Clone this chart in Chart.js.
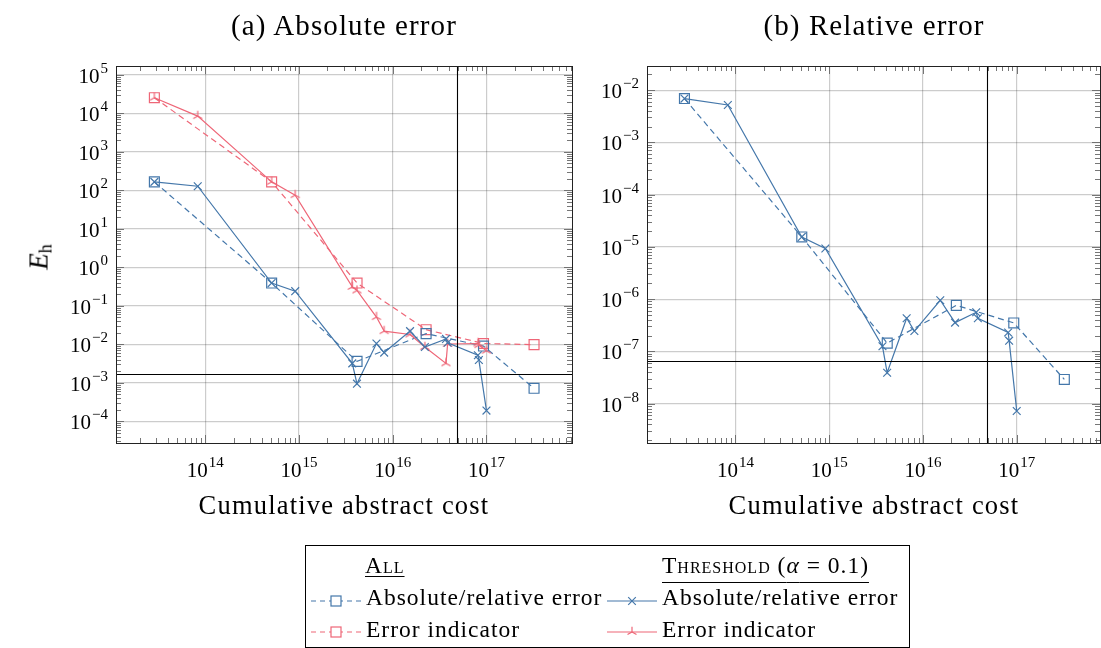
<!DOCTYPE html>
<html>
<head>
<meta charset="utf-8">
<script src="https://cdn.jsdelivr.net/npm/chart.js@4/dist/chart.umd.min.js"></script>
<style>
  body { margin: 0; background: #fff; }
  #page { position: relative; width: 1101px; height: 648px; overflow: hidden; font-family: "Liberation Serif", serif; color: #000; }
  canvas.panel { position: absolute; top: 0; }
  .title { position: absolute; top: 9px; width: 456px; text-align: center; font-size: 29px; letter-spacing: 1.1px; white-space: nowrap; }
  .xlabel { position: absolute; top: 490px; width: 456px; text-align: center; font-size: 26.5px; letter-spacing: 1.2px; white-space: nowrap; }
  #ylabel { position: absolute; left: 40px; top: 257px; transform: translate(-50%, -50%) rotate(-90deg); font-size: 27px; white-space: nowrap; }
  #ylabel sub { font-style: normal; font-size: 18px; vertical-align: -4px; }
  #legend { position: absolute; left: 305px; top: 545px; width: 603px; height: 101px; border: 1px solid #000; }
  #legend span { position: absolute; font-size: 23.5px; letter-spacing: 1px; line-height: 26px; white-space: nowrap; }
  #legend .head { font-variant: small-caps; text-decoration: underline; text-decoration-thickness: 1px; }
  #legend canvas { position: absolute; left: 0; top: 0; }
</style>
</head>
<body>
<div id="page">
  <canvas id="absChart" class="panel" width="590" height="540" style="left:0"></canvas>
  <canvas id="relChart" class="panel" width="541" height="540" style="left:560px"></canvas>

  <div class="title" style="left:116px">(a) Absolute error</div>
  <div class="title" style="left:646px">(b) Relative error</div>
  <div class="xlabel" style="left:116px">Cumulative abstract cost</div>
  <div class="xlabel" style="left:646px">Cumulative abstract cost</div>
  <div id="ylabel"><i>E</i><sub>h</sub></div>

  <div id="legend">
    <canvas id="legendMarks" width="603" height="101"></canvas>
    <span class="head" style="left:59px;top:6px;text-underline-offset:3px">All</span>
    <span class="head" style="left:356px;top:6px;text-underline-offset:9px">Threshold (<i style="font-variant:normal">α</i> = 0.1)</span>
    <span style="left:60px;top:38px">Absolute/relative error</span>
    <span style="left:356px;top:38px">Absolute/relative error</span>
    <span style="left:60px;top:70px">Error indicator</span>
    <span style="left:356px;top:70px">Error indicator</span>
  </div>
</div>

<script>
// runs that use every refinement step
const allCost      = [2.86e13, 5.1e14, 4.16e15, 2.27e16, 9.3e16, 3.22e17];
const allAbsErr    = [166, 0.39, 3.6e-3, 0.019, 9.0e-3, 7.2e-4];
const allIndicator = [2.55e4, 166, 0.39, 0.024, 0.0105, 0.0098];
const allRelErr    = [6.9e-3, 1.55e-5, 1.44e-7, 7.6e-7, 3.5e-7, 2.9e-8];

// thresholded runs (alpha = 0.1)
const thrCost      = [2.86e13, 8.3e13, 5.1e14, 9.1e14, 3.7e15, 4.15e15, 6.7e15, 8.1e15,
                      1.53e16, 2.2e16, 3.7e16, 3.85e16, 8.1e16, 8.3e16, 1.0e17];
const thrAbsErr    = [166, 128, 0.39, 0.24, 3.2e-3, 9.5e-4, 0.0105, 6.1e-3,
                      0.022, 8.5e-3, 0.0138, 0.011, 5.2e-3, 3.9e-3, 1.9e-4];
const thrIndicator = [2.55e4, 8.5e3, 166, 75, 0.31, 0.25, 0.051, 0.022,
                      0.018, 8.5e-3, 3.2e-3, 0.0102, 0.0105, 0.0095, 0.0068];
const thrRelErr    = [6.9e-3, 5.2e-3, 1.55e-5, 9.3e-6, 1.25e-7, 3.9e-8, 4.3e-7, 2.45e-7,
                      9.5e-7, 3.55e-7, 5.6e-7, 4.3e-7, 2.3e-7, 1.6e-7, 7.2e-9];

// tolerance and budget reference lines
const absTolerance = 1.65e-3;
const relTolerance = 6.4e-8;
const costBudget   = 4.8e16;

const BLUE = '#4477AA';
const RED  = '#EE6677';
const FONT = '"Liberation Serif", serif';

const pairs = (xs, ys) => xs.map((x, i) => ({ x, y: ys[i] }));

// three-spoke marker used for the thresholded error indicator
function triMarker(color) {
  const c = document.createElement('canvas');
  c.width = 12; c.height = 12;
  const g = c.getContext('2d');
  g.strokeStyle = color; g.lineWidth = 1.2;
  g.beginPath();
  g.moveTo(6, 6); g.lineTo(6, 0.8);
  g.moveTo(6, 6); g.lineTo(1.5, 8.6);
  g.moveTo(6, 6); g.lineTo(10.5, 8.6);
  g.stroke();
  return c;
}
const triRed = triMarker(RED);

function allSeries(label, data, color) {
  return {
    label, data, borderColor: color, borderWidth: 1.2, borderDash: [6, 4],
    pointStyle: 'rect', pointRadius: 7, pointBorderWidth: 1.2,
    pointBackgroundColor: 'rgba(0,0,0,0)', pointBorderColor: color, fill: false
  };
}
function thrSeries(label, data, color, style) {
  return {
    label, data, borderColor: color, borderWidth: 1.2,
    pointStyle: style, pointRadius: style === 'crossRot' ? 5.5 : 6, pointBorderWidth: 1.2,
    pointBackgroundColor: color, pointBorderColor: color, fill: false
  };
}

function decades(min, max) {
  const out = [];
  for (let e = Math.ceil(Math.log10(min) - 1e-9); Math.pow(10, e) <= max * (1 + 1e-9); e++) out.push(e);
  return out;
}

function drawPow(ctx, exp, x, baseY, align) {
  const e = exp < 0 ? '\u2212' + (-exp) : String(exp);
  ctx.font = '21px ' + FONT;
  const wb = ctx.measureText('10').width;
  ctx.font = '15px ' + FONT;
  const we = ctx.measureText(e).width;
  const total = wb + 1 + we;
  const left = align === 'center' ? x - total / 2 : x - total;
  ctx.textAlign = 'left';
  ctx.textBaseline = 'alphabetic';
  ctx.font = '21px ' + FONT;
  ctx.fillText('10', left, baseY);
  ctx.font = '15px ' + FONT;
  ctx.fillText(e, left + wb + 1, baseY - 10);
}

// frame, inward minor ticks, reference lines and power-of-ten labels
const frameTicks = {
  id: 'frameTicks',
  afterDatasetsDraw(chart, args, opts) {
    const { ctx, chartArea: a, scales: { x, y } } = chart;
    ctx.save();
    const seg = (x1, y1, x2, y2) => { ctx.beginPath(); ctx.moveTo(x1, y1); ctx.lineTo(x2, y2); ctx.stroke(); };

    ctx.strokeStyle = '#666';
    ctx.lineWidth = 0.9;
    for (const e of decades(x.min / 10, x.max * 10)) {
      for (let k = 1; k <= 9; k++) {
        const v = k * Math.pow(10, e);
        if (v < x.min || v > x.max) continue;
        const px = Math.round(x.getPixelForValue(v)) + 0.5;
        const len = k === 1 ? 8 : 5;
        seg(px, a.top, px, a.top + len);
        seg(px, a.bottom, px, a.bottom - len);
      }
    }
    for (const e of decades(y.min / 10, y.max * 10)) {
      for (let k = 1; k <= 9; k++) {
        const v = k * Math.pow(10, e);
        if (v < y.min || v > y.max) continue;
        const py = Math.round(y.getPixelForValue(v)) + 0.5;
        const len = k === 1 ? 8 : 5;
        seg(a.left, py, a.left + len, py);
        seg(a.right, py, a.right - len, py);
      }
    }

    ctx.strokeStyle = '#000';
    ctx.lineWidth = 1.1;
    const hy = Math.round(y.getPixelForValue(opts.hLine)) + 0.5;
    const vx = Math.round(x.getPixelForValue(opts.vLine)) + 0.5;
    seg(a.left, hy, a.right, hy);
    seg(vx, a.top, vx, a.bottom);

    ctx.strokeStyle = '#222';
    ctx.lineWidth = 1;
    ctx.strokeRect(Math.round(a.left) + 0.5, Math.round(a.top) + 0.5,
                   Math.round(a.right - a.left), Math.round(a.bottom - a.top));

    ctx.fillStyle = '#000';
    for (const e of decades(x.min, x.max)) {
      drawPow(ctx, e, x.getPixelForValue(Math.pow(10, e)), a.bottom + 34, 'center');
    }
    for (const e of decades(y.min, y.max)) {
      drawPow(ctx, e, a.left - 8, y.getPixelForValue(Math.pow(10, e)) + 8, 'right');
    }
    ctx.restore();
  }
};

function logAxis(min, max) {
  return {
    type: 'logarithmic', min, max,
    afterBuildTicks(scale) {
      scale.ticks = decades(scale.min, scale.max).map(e => ({ value: Math.pow(10, e) }));
    },
    ticks: { display: false },
    grid: { drawTicks: false, color: 'rgba(0,0,0,0.2)', lineWidth: 1.2 },
    border: { display: false }
  };
}

function makeChart(id, datasets, xRange, yRange, padding, refs) {
  return new Chart(document.getElementById(id), {
    type: 'line',
    data: { datasets },
    options: {
      responsive: false,
      animation: false,
      layout: { padding, autoPadding: false },
      scales: { x: logAxis(xRange[0], xRange[1]), y: logAxis(yRange[0], yRange[1]) },
      plugins: { legend: { display: false }, tooltip: { enabled: false }, frameTicks: refs }
    },
    plugins: [frameTicks]
  });
}

makeChart('absChart', [
  thrSeries('Threshold: absolute error', pairs(thrCost, thrAbsErr), BLUE, 'crossRot'),
  thrSeries('Threshold: error indicator', pairs(thrCost, thrIndicator), RED, triRed),
  allSeries('All: absolute error', pairs(allCost, allAbsErr), BLUE),
  allSeries('All: error indicator', pairs(allCost, allIndicator), RED)
], [1.114e13, 8.18e17], [2.73e-5, 1.7e5],
   { left: 116, top: 66, right: 18, bottom: 97 },
   { hLine: absTolerance, vLine: costBudget });

makeChart('relChart', [
  thrSeries('Threshold: relative error', pairs(thrCost, thrRelErr), BLUE, 'crossRot'),
  allSeries('All: relative error', pairs(allCost, allRelErr), BLUE)
], [1.14e13, 7.73e17], [1.76e-9, 2.9e-2],
   { left: 87, top: 66, right: 1, bottom: 97 },
   { hLine: relTolerance, vLine: costBudget });

// legend line samples
(function () {
  const g = document.getElementById('legendMarks').getContext('2d');
  function sample(x0, x1, yc, color, dashed, marker) {
    g.save();
    g.strokeStyle = color; g.lineWidth = 1.2;
    g.setLineDash(dashed ? [5, 4] : []);
    g.beginPath(); g.moveTo(x0, yc); g.lineTo(x1, yc); g.stroke();
    g.setLineDash([]);
    const xc = (x0 + x1) / 2;
    if (marker === 'rect') {
      g.fillStyle = '#fff';
      g.fillRect(xc - 5, yc - 5, 10, 10);
      g.strokeRect(xc - 5, yc - 5, 10, 10);
    } else if (marker === 'cross') {
      g.beginPath();
      g.moveTo(xc - 3.8, yc - 3.8); g.lineTo(xc + 3.8, yc + 3.8);
      g.moveTo(xc - 3.8, yc + 3.8); g.lineTo(xc + 3.8, yc - 3.8);
      g.stroke();
    } else {
      g.drawImage(triRed, xc - 6, yc - 6);
    }
    g.restore();
  }
  sample(5, 55, 55, BLUE, true, 'rect');
  sample(5, 55, 86, RED, true, 'rect');
  sample(301, 351, 55, BLUE, false, 'cross');
  sample(301, 351, 86, RED, false, 'tri');
})();
</script>
</body>
</html>
